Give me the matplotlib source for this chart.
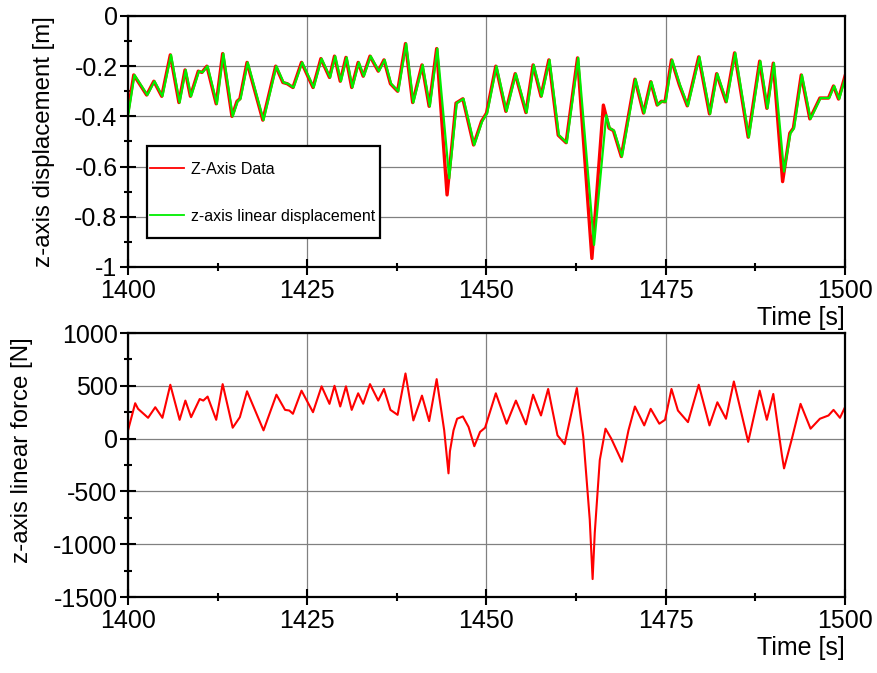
import numpy as np
import matplotlib.pyplot as plt
from matplotlib.ticker import MultipleLocator
from matplotlib.patches import Rectangle

plt.rcParams['font.family'] = ['Liberation Sans', 'DejaVu Sans']
plt.rcParams['axes.unicode_minus'] = False

# top: z displacement, red = measured data
t_disp = [1400.0, 1400.8, 1401.7, 1402.6, 1403.6, 1404.7, 1405.9, 1407.1, 1407.95, 1408.7,
          1409.8, 1410.3, 1411.0, 1412.3, 1413.2, 1414.5, 1415.2, 1415.6, 1416.6, 1418.8,
          1420.6, 1421.6, 1422.2, 1423.0, 1424.2, 1425.8, 1426.9, 1428.1, 1428.8, 1429.6,
          1430.4, 1431.2, 1432.1, 1432.8, 1433.75, 1434.9, 1435.7, 1436.6, 1437.6, 1438.7,
          1439.7, 1441.0, 1442.0, 1443.05, 1444.5, 1445.75, 1446.7, 1448.2, 1449.3, 1450.0,
          1451.3, 1452.7, 1454.0, 1455.5, 1456.5, 1457.6, 1458.7, 1460.0, 1461.1, 1462.7,
          1464.7, 1466.3, 1467.1, 1467.7, 1468.8, 1470.7, 1471.9, 1472.9, 1473.8, 1474.4,
          1474.9, 1475.8, 1476.9, 1478.0, 1479.6, 1481.1, 1482.1, 1483.4, 1484.6, 1486.5,
          1488.1, 1489.1, 1490.0, 1491.3, 1492.3, 1492.8, 1493.9, 1495.1, 1496.5, 1497.7,
          1498.4, 1499.1, 1500.0]
z_data = [-0.38, -0.235, -0.275, -0.315, -0.26, -0.32, -0.155, -0.345, -0.215, -0.32,
          -0.22, -0.225, -0.20, -0.35, -0.15, -0.40, -0.34, -0.33, -0.185, -0.415,
          -0.20, -0.265, -0.27, -0.285, -0.185, -0.285, -0.17, -0.245, -0.16, -0.26,
          -0.165, -0.285, -0.185, -0.24, -0.16, -0.22, -0.175, -0.27, -0.30, -0.11,
          -0.345, -0.195, -0.36, -0.13, -0.713, -0.347, -0.33, -0.514, -0.42, -0.387,
          -0.20, -0.38, -0.23, -0.385, -0.195, -0.32, -0.175, -0.475, -0.505, -0.167,
          -0.966, -0.355, -0.447, -0.457, -0.56, -0.252, -0.387, -0.262, -0.355, -0.34,
          -0.342, -0.175, -0.275, -0.358, -0.163, -0.39, -0.23, -0.342, -0.147, -0.483,
          -0.18, -0.368, -0.188, -0.66, -0.467, -0.447, -0.235, -0.41, -0.327, -0.327,
          -0.279, -0.331, -0.24]

# green = linear displacement (follows the data, shallower dips)
t_lin = [1400.0, 1400.9, 1401.8, 1402.7, 1403.7, 1404.8, 1406.0, 1407.2, 1408.05, 1408.8,
         1409.9, 1410.4, 1411.1, 1412.4, 1413.3, 1414.6, 1415.3, 1415.7, 1416.7, 1418.9,
         1420.7, 1421.7, 1422.3, 1423.1, 1424.3, 1425.9, 1427.0, 1428.2, 1428.9, 1429.7,
         1430.5, 1431.3, 1432.2, 1432.9, 1433.85, 1435.0, 1435.8, 1436.7, 1437.7, 1438.8,
         1439.8, 1441.1, 1442.1, 1443.15, 1444.8, 1445.85, 1446.8, 1448.3, 1449.4, 1450.1,
         1451.4, 1452.8, 1454.1, 1455.6, 1456.6, 1457.7, 1458.8, 1460.1, 1461.2, 1462.8,
         1465.0, 1466.7, 1467.2, 1467.8, 1468.9, 1470.8, 1472.0, 1473.0, 1473.9, 1474.5,
         1475.0, 1475.9, 1477.0, 1478.1, 1479.7, 1481.2, 1482.2, 1483.5, 1484.7, 1486.6,
         1488.2, 1489.2, 1490.1, 1491.5, 1492.4, 1492.9, 1494.0, 1495.2, 1496.6, 1497.8,
         1498.5, 1499.2, 1500.0]
z_lin = [-0.40, -0.235, -0.275, -0.315, -0.26, -0.32, -0.155, -0.345, -0.215, -0.32,
         -0.22, -0.225, -0.20, -0.35, -0.15, -0.40, -0.34, -0.33, -0.185, -0.415,
         -0.20, -0.265, -0.27, -0.285, -0.185, -0.285, -0.17, -0.245, -0.16, -0.26,
         -0.165, -0.285, -0.185, -0.24, -0.16, -0.22, -0.175, -0.27, -0.30, -0.11,
         -0.345, -0.195, -0.36, -0.13, -0.647, -0.347, -0.33, -0.514, -0.42, -0.387,
         -0.20, -0.38, -0.23, -0.385, -0.195, -0.32, -0.175, -0.475, -0.505, -0.167,
         -0.912, -0.395, -0.447, -0.457, -0.56, -0.252, -0.387, -0.262, -0.355, -0.34,
         -0.342, -0.175, -0.275, -0.358, -0.163, -0.39, -0.23, -0.342, -0.147, -0.483,
         -0.18, -0.368, -0.188, -0.62, -0.467, -0.447, -0.235, -0.41, -0.327, -0.327,
         -0.279, -0.331, -0.25]

# bottom: z linear force
t_force = [1400.0, 1401.0, 1401.4, 1402.8, 1403.8, 1404.8, 1405.9, 1407.2, 1408.0, 1408.8,
           1410.0, 1410.5, 1411.1, 1412.3, 1413.2, 1414.6, 1415.6, 1416.6, 1418.9, 1420.7,
           1421.9, 1422.5, 1423.0, 1424.2, 1425.8, 1427.0, 1428.1, 1428.8, 1429.6, 1430.4,
           1431.2, 1432.1, 1432.8, 1433.75, 1434.9, 1435.7, 1436.6, 1437.6, 1438.7, 1439.8,
           1441.0, 1442.0, 1443.05, 1444.1, 1444.7, 1444.9, 1445.4, 1445.9, 1446.7, 1447.5,
           1448.3, 1449.1, 1449.8, 1451.3, 1452.8, 1454.1, 1455.5, 1456.5, 1457.6, 1458.6,
           1459.9, 1460.9, 1462.6, 1463.5, 1464.4, 1464.8, 1465.1, 1465.8, 1466.6, 1467.4,
           1468.9, 1469.8, 1470.7, 1472.0, 1472.9, 1474.1, 1474.9, 1475.8, 1476.7, 1478.1,
           1479.6, 1481.1, 1482.2, 1483.4, 1484.5, 1486.5, 1488.1, 1489.1, 1490.0, 1491.2,
           1491.5, 1492.6, 1493.8, 1495.2, 1496.5, 1497.7, 1498.4, 1499.3, 1500.0]
force = [78, 335, 282, 197, 297, 197, 510, 178, 360, 203,
         375, 360, 398, 178, 516, 103, 203, 448, 78, 416,
         272, 266, 235, 454, 250, 495, 329, 500, 304, 495,
         272, 429, 330, 516, 360, 470, 272, 225, 617, 172,
         407, 166, 563, 78, -329, -120, 78, 188, 210, 110,
         -72, 63, 103, 429, 141, 360, 135, 416, 219, 470,
         31, -53, 479, 16, -767, -1330, -892, -203, 94, 0,
         -219, 78, 304, 125, 282, 141, 178, 470, 266, 156,
         510, 125, 344, 188, 541, -31, 454, 178, 423, -156,
         -282, 0, 329, 94, 188, 219, 272, 197, 297]


def style_axis(ax, ymin, ymax, ymaj):
    ax.set_xlim(1400, 1500)
    ax.set_ylim(ymin, ymax)
    ax.xaxis.set_major_locator(MultipleLocator(25))
    ax.xaxis.set_minor_locator(MultipleLocator(12.5))
    ax.yaxis.set_major_locator(MultipleLocator(ymaj))
    ax.yaxis.set_minor_locator(MultipleLocator(ymaj / 2))
    ax.grid(True, which='major', color='#808080', linewidth=0.9)
    ax.tick_params(which='major', direction='inout', length=11, width=1.5, labelsize=18)
    ax.tick_params(which='minor', direction='inout', length=6, width=1.5)
    ax.tick_params(axis='x', which='major', pad=3)
    ax.tick_params(axis='y', which='major', pad=2)
    for s in ax.spines.values():
        s.set_linewidth(1.6)
    ax.set_xlabel('Time [s]', fontsize=18, loc='right', labelpad=2)


fig = plt.figure(figsize=(8.78, 6.73), dpi=100)
ax1 = fig.add_axes([0.1458, 0.6033, 0.8166, 0.3730])
ax2 = fig.add_axes([0.1458, 0.1129, 0.8166, 0.3923])

ax1.plot(t_disp, z_data, color='#ff0000', linewidth=2.4, label='Z-Axis Data')
ax1.plot(t_lin, z_lin, color='#00ee00', linewidth=1.6, label='z-axis linear displacement')
style_axis(ax1, -1, 0, 0.2)
ax1.set_yticks([0, -0.2, -0.4, -0.6, -0.8, -1])
ax1.set_yticklabels(['0', '-0.2', '-0.4', '-0.6', '-0.8', '-1'])
ax1.set_ylabel('z-axis displacement [m]', fontsize=17.3)
ax1.yaxis.set_label_coords(-0.102, 0.5)

# legend box drawn separately: the reference box has wide vertical padding
ax1.add_patch(Rectangle((0.0265, 0.116), 0.325, 0.366, transform=ax1.transAxes,
                        facecolor='white', edgecolor='black', linewidth=1.6, zorder=4))
leg = ax1.legend(loc='center left', bbox_to_anchor=(0.031, 0.2945), fontsize=11.5,
                 frameon=False, labelspacing=2.0, handlelength=2.1,
                 handletextpad=0.45, borderpad=0, borderaxespad=0)
leg.set_zorder(5)
for line in leg.get_lines():
    line.set_linewidth(1.3)

ax2.plot(t_force, force, color='#ff0000', linewidth=1.5)
style_axis(ax2, -1500, 1000, 500)
ax2.set_ylabel('z-axis linear force [N]', fontsize=17.3)
ax2.yaxis.set_label_coords(-0.1325, 0.557)

fig.savefig('out.png', dpi=100)
